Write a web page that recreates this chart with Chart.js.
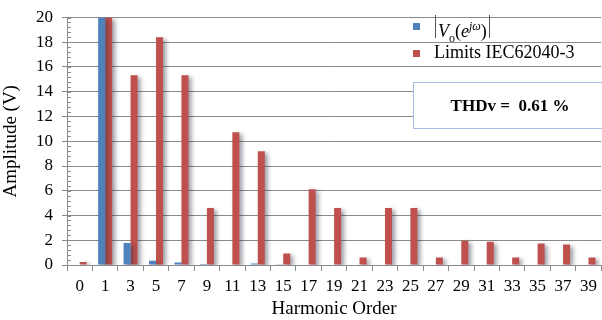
<!DOCTYPE html>
<html>
<head>
<meta charset="utf-8">
<script src="https://cdn.jsdelivr.net/npm/chart.js@4"></script>
<style>
  body { margin: 0; background: #fff; }
  #wrap { position: relative; width: 602px; height: 320px; overflow: hidden; font-family: "Liberation Serif", "Times New Roman", serif; }
  .sw { position: absolute; width: 7px; height: 7px; }
  .lbl { position: absolute; font-size: 18px; color: #000; white-space: nowrap; }
  #absv { border-left: 1px solid #555; border-right: 1px solid #555; padding: 0 2px; height: 23px; line-height: 23px; }
  #absv sub, #absv sup { font-size: 12px; }
  #thd { position: absolute; left: 413px; top: 82px; width: 192px; height: 45px; background: #fff;
         border: 1px solid #a3bfe3; font-weight: bold; font-size: 17px; text-align: center; line-height: 45px; }
</style>
</head>
<body>
<div id="wrap">
  <canvas id="chart" width="602" height="320"></canvas>
  <div class="sw" style="left:413px; top:23px; background:#4f81bd"></div>
  <div class="lbl" id="absv" style="left:435px; top:15px"><i>V</i><sub>o</sub>(<i>e</i><sup><i>jω</i></sup>)</div>
  <div class="sw" style="left:413px; top:50px; background:#c0504d"></div>
  <div class="lbl" style="left:434px; top:42px">Limits IEC62040-3</div>
  <div id="thd">THDv =&nbsp; 0.61 %</div>
</div>
<script>
// harmonic orders on the x axis
const harmonics = ['0', '1', '3', '5', '7', '9', '11', '13', '15', '17', '19',
                   '21', '23', '25', '27', '29', '31', '33', '35', '37', '39']

// measured output voltage spectrum (fundamental runs off the top)
const voltage = [0, 20, 1.78, 0.35, 0.2, 0.08, 0, 0.12, 0.07, 0.05, 0.05,
                 0.05, 0.05, 0.05, 0.05, 0.05, 0.05, 0.05, 0.05, 0.05, 0.05]

// IEC 62040-3 harmonic limits
const limits = [0.25, 20, 15.33, 18.4, 15.33, 4.6, 10.72, 9.2, 0.92, 6.13, 4.6,
                0.61, 4.6, 4.6, 0.61, 1.96, 1.87, 0.61, 1.73, 1.65, 0.61]

const yTicks = { min: 0, max: 20, step: 2 }

const serif = '"Liberation Serif", "Times New Roman", serif'
const gridGray = '#8a8a8a'

// soft drop shadow behind the bars
const barShadow = {
  id: 'barShadow',
  beforeDatasetsDraw(chart) {
    const c = chart.ctx
    c.save()
    c.shadowColor = 'rgba(40,40,60,0.45)'
    c.shadowBlur = 4
    c.shadowOffsetX = 3
    c.shadowOffsetY = 2
  },
  afterDatasetsDraw(chart) {
    chart.ctx.restore()
  }
}

// small minor ticks along the y axis
const minorTicks = {
  id: 'minorTicks',
  afterDraw(chart) {
    const y = chart.scales.y
    const c = chart.ctx
    const x0 = chart.chartArea.left
    c.save()
    c.strokeStyle = gridGray
    c.lineWidth = 1
    c.beginPath()
    for (let v = yTicks.min; v <= yTicks.max + 1e-6; v += 0.4) {
      const py = Math.round(y.getPixelForValue(v)) + 0.5
      c.moveTo(x0, py)
      c.lineTo(x0 + 4, py)
    }
    c.stroke()
    c.restore()
  }
}

const ctx = document.getElementById('chart').getContext('2d')

new Chart(ctx, {
  type: 'bar',
  data: {
    labels: harmonics,
    datasets: [
      { label: '|Vo(e^jω)|', data: voltage, backgroundColor: '#4f81bd' },
      { label: 'Limits IEC62040-3', data: limits, backgroundColor: '#c0504d' }
    ]
  },
  options: {
    responsive: false,
    animation: false,
    layout: { padding: { top: 0, right: 0, left: 0, bottom: 0 } },
    datasets: { bar: { barPercentage: 1, categoryPercentage: 0.55 } },
    plugins: { legend: { display: false }, tooltip: { enabled: false } },
    scales: {
      x: {
        offset: true,
        grid: { offset: true, drawOnChartArea: false, color: gridGray, tickLength: 6 },
        border: { color: gridGray },
        ticks: { color: '#000', font: { family: serif, size: 17 }, padding: 5, maxRotation: 0, autoSkip: false },
        title: { display: true, text: 'Harmonic Order', color: '#000', font: { family: serif, size: 19 }, padding: { top: 0, bottom: 0 } },
        afterFit(s) { s.height = 55 }
      },
      y: {
        min: yTicks.min,
        max: yTicks.max,
        ticks: { stepSize: yTicks.step, color: '#000', font: { family: serif, size: 17, lineHeight: 1 }, padding: 9 },
        grid: { color: gridGray, tickLength: 5 },
        border: { color: gridGray },
        title: { display: true, text: 'Amplitude (V)', color: '#000', font: { family: serif, size: 19 }, padding: { top: 0, bottom: 0 } },
        afterFit(s) { s.width = 67 }
      }
    }
  },
  plugins: [barShadow, minorTicks]
})
</script>
</body>
</html>
